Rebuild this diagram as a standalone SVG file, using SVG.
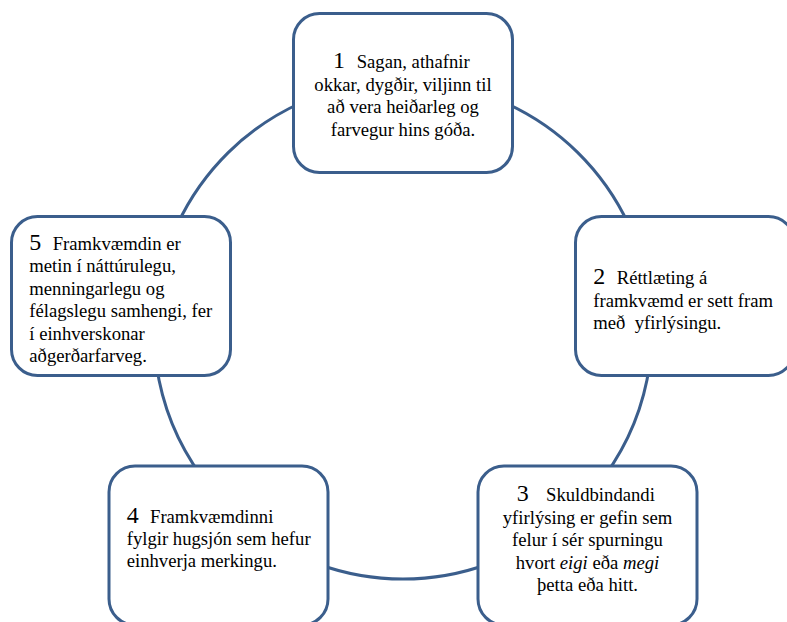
<svg xmlns="http://www.w3.org/2000/svg" width="787" height="622" viewBox="0 0 787 622">
<style>
.box{fill:#fff;stroke:#3b5e8c;stroke-width:3}
.arc{fill:none;stroke:#3b5e8c;stroke-width:3}
text{font-size:18.67px;fill:#000}
.num{font-size:24px}
.mid{text-anchor:middle}
.it{font-style:italic}
</style>
<rect width="787" height="622" fill="#fff"/>
<g id="connectors">
<path class="arc" d="M177.3,224.8 A249,249 0 0 1 301.7,102.5"/>
<path class="arc" d="M504.3,102.5 A249,249 0 0 1 628.7,224.8"/>
<path class="arc" d="M649.6,364.7 A249,249 0 0 1 604.4,476.4"/>
<path class="arc" d="M488.2,564 A249,249 0 0 1 317.8,564"/>
<path class="arc" d="M201.6,476.4 A249,249 0 0 1 156.4,364.7"/>
</g>
<g font-family="Liberation Serif, Tinos, DejaVu Serif, serif">
<g id="node1">
<rect class="box" x="293.5" y="13.5" width="219" height="159" rx="26"/>
<text x="333" y="68"><tspan class="num">1</tspan><tspan x="356.7">Sagan, athafnir</tspan></text>
<text class="mid" x="403" y="90.5">okkar, dygðir, viljinn til</text>
<text class="mid" x="403" y="113">að vera heiðarleg og</text>
<text class="mid" x="403" y="135.5">farvegur hins góða.</text>
</g>
<g id="node2">
<rect class="box" x="575.5" y="216.5" width="219" height="159" rx="26"/>
<text x="593.3" y="284"><tspan class="num">2</tspan><tspan x="616.7">Réttlæting á</tspan></text>
<text x="593.3" y="306.5">framkvæmd er sett fram</text>
<text x="593.3" y="329" xml:space="preserve">með  yfirlýsingu.</text>
</g>
<g id="node3">
<rect class="box" x="478" y="466" width="219" height="159" rx="26"/>
<text x="516.7" y="501"><tspan class="num">3</tspan><tspan x="546">Skuldbindandi</tspan></text>
<text class="mid" x="587.5" y="523.5">yfirlýsing er gefin sem</text>
<text class="mid" x="587.5" y="546">felur í sér spurningu</text>
<text class="mid" x="587.5" y="568.5">hvort <tspan class="it">eigi</tspan> eða <tspan class="it">megi</tspan></text>
<text class="mid" x="587.5" y="591">þetta eða hitt.</text>
</g>
<g id="node4">
<rect class="box" x="109" y="466" width="219" height="159" rx="26"/>
<text x="126.7" y="522.7"><tspan class="num">4</tspan><tspan x="150">Framkvæmdinni</tspan></text>
<text x="126.7" y="545">fylgir hugsjón sem hefur</text>
<text x="126.7" y="567.3">einhverja merkingu.</text>
</g>
<g id="node5">
<rect class="box" x="11.5" y="216.5" width="219" height="159" rx="26"/>
<text x="29.3" y="249.5"><tspan class="num">5</tspan><tspan x="52.7">Framkvæmdin er</tspan></text>
<text x="29.3" y="272">metin í náttúrulegu,</text>
<text x="29.3" y="294.5">menningarlegu og</text>
<text x="29.3" y="317">félagslegu samhengi, fer</text>
<text x="29.3" y="339.5">í einhverskonar</text>
<text x="29.3" y="362">aðgerðarfarveg.</text>
</g>
</g>
</svg>
